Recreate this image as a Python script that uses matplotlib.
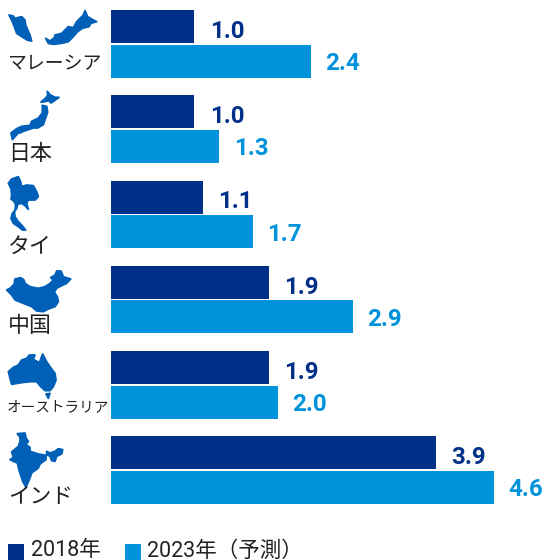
## horizontal bars per country, 2018 vs 2023 forecast

import matplotlib
matplotlib.use("Agg")
import matplotlib.pyplot as plt
from matplotlib.patches import Polygon, Rectangle

plt.rcParams["font.family"] = ["Roboto", "Noto Sans CJK JP"]

countries = ["マレーシア", "日本", "タイ", "中国", "オーストラリア", "インド"]
values_2018 = [1.0, 1.0, 1.1, 1.9, 1.9, 3.9]
values_2023 = [2.4, 1.3, 1.7, 2.9, 2.0, 4.6]
legend_labels = ["2018年", "2023年（予測）"]

DARK = "#003087"
LIGHT = "#0093DC"
ICON = "#0060B8"
TEXT = "#222222"

W, H = 545, 560
LEFT = 111
PX_PER_UNIT = 83.3
ROW0 = 44.0
ROW_STEP = 85.2

# country outlines at 3x scale, each with the pixel offset of its corner
icons = [
    ((5, 5), [
        [(12, 30), (25, 33), (30, 40), (50, 35), (60, 45), (62, 60), (75, 90), (80, 108), (68, 106),
         (50, 95), (35, 85), (28, 65), (22, 50)],
        [(122, 100), (135, 108), (148, 98), (150, 90), (170, 85), (190, 65), (205, 68), (215, 50),
         (235, 30), (240, 17), (248, 35), (265, 45), (275, 50), (258, 55), (252, 65), (232, 70),
         (218, 80), (205, 95), (190, 110), (170, 115), (145, 118), (130, 115)],
    ]),
    ((5, 88), [
        [(127, 10), (135, 20), (150, 28), (162, 28), (150, 37), (138, 45), (132, 38), (115, 42),
         (108, 42), (120, 32), (128, 22)],
        [(112, 52), (125, 55), (128, 72), (122, 90), (115, 110), (98, 120), (85, 120), (70, 125),
         (55, 130), (45, 135), (40, 135), (22, 155), (18, 135), (35, 122), (50, 115), (75, 112),
         (80, 100), (100, 90), (112, 75)],
    ]),
    ((5, 175), [
        [(10, 25), (20, 12), (40, 5), (47, 20), (50, 35), (65, 30), (85, 32), (95, 50), (100, 65),
         (90, 75), (70, 75), (65, 85), (70, 103), (60, 92), (50, 85), (38, 88), (35, 100), (30, 108),
         (32, 90), (28, 80), (18, 72), (20, 60), (18, 40)],
        [(28, 108), (30, 125), (40, 140), (50, 150), (62, 165), (52, 165), (40, 155), (25, 145),
         (18, 130), (22, 115)],
    ]),
    ((0, 265), [
        [(20, 75), (30, 70), (42, 58), (45, 42), (62, 38), (72, 45), (75, 55), (90, 65), (115, 70),
         (135, 65), (150, 55), (160, 45), (152, 38), (165, 30), (170, 18), (183, 18), (190, 35),
         (212, 42), (200, 55), (185, 62), (170, 70), (163, 82), (172, 95), (175, 110), (165, 125),
         (145, 132), (130, 140), (110, 138), (95, 125), (70, 115), (45, 105), (35, 90)],
    ]),
    ((0, 350), [
        [(25, 65), (40, 52), (55, 45), (65, 30), (80, 25), (88, 15), (105, 15), (100, 28), (118, 38),
         (128, 12), (140, 35), (150, 50), (165, 70), (168, 90), (160, 110), (150, 122), (135, 122),
         (122, 110), (110, 95), (90, 95), (65, 98), (35, 103), (30, 85)],
        [(138, 132), (150, 130), (145, 145)],
    ]),
    ((0, 428), [
        [(52, 17), (75, 15), (78, 30), (85, 40), (78, 50), (90, 58), (90, 70), (115, 78), (138, 82),
         (138, 95), (120, 108), (115, 120), (95, 135), (90, 150), (78, 178), (68, 160), (58, 130),
         (52, 105), (40, 100), (30, 95), (40, 88), (35, 72), (55, 55), (60, 40), (60, 28)],
        [(140, 70), (150, 75), (165, 70), (175, 62), (188, 65), (185, 78), (170, 85), (165, 100),
         (155, 98), (150, 85), (140, 80)],
    ]),
]

# name position (left x, centre y) and font size
name_pos = [(7, 64, 13.6), (8, 155, 15.8), (8, 247, 15.8), (8, 327, 15.8), (7, 407, 10.5), (8, 498, 15.6)]

fig = plt.figure(figsize=(W / 100, H / 100), dpi=100)

# bars sit on their own axes so the value scale starts at the bar baseline
ax = fig.add_axes([LEFT / W, 0, (W - LEFT) / W, 1])
ax.set_xlim(0, (W - LEFT) / PX_PER_UNIT)
ax.set_ylim((H - ROW0) / ROW_STEP, -ROW0 / ROW_STEP)
ax.axis("off")

bar_h = 33 / ROW_STEP
shift = 17.4 / ROW_STEP
for i in range(len(countries)):
    ax.barh(i - shift, values_2018[i], height=bar_h, color=DARK)
    ax.barh(i + shift, values_2023[i], height=bar_h, color=LIGHT)
    ax.annotate("%.1f" % values_2018[i], (values_2018[i], i - shift), xytext=(11, -3.6),
                textcoords="offset points", va="center", fontsize=17.4, fontweight="bold", color=DARK)
    ax.annotate("%.1f" % values_2023[i], (values_2023[i], i + shift), xytext=(10.4, -1.6),
                textcoords="offset points", va="center", fontsize=17.4, fontweight="bold", color=LIGHT)

# overlay in pixel coordinates for icons, names and the legend
pa = fig.add_axes([0, 0, 1, 1], facecolor="none")
pa.set_xlim(0, W)
pa.set_ylim(H, 0)
pa.axis("off")

for (ox, oy), parts in icons:
    for part in parts:
        pts = [(ox + x / 3, oy + y / 3) for x, y in part]
        pa.add_patch(Polygon(pts, closed=True, facecolor=ICON, edgecolor=ICON, linewidth=1.3, joinstyle="round"))

for name, (x, y, size) in zip(countries, name_pos):
    pa.text(x, y, name, fontsize=size, color=TEXT, va="center", ha="left")

for x, color, label, tx in zip([8, 125], [DARK, LIGHT], legend_labels, [31, 147]):
    pa.add_patch(Rectangle((x, 544), 16, 16, facecolor=color, edgecolor="none"))
    pa.text(tx, 551, label, fontsize=15.5, color=TEXT, va="center", ha="left")

fig.savefig("out.png", dpi=100)
